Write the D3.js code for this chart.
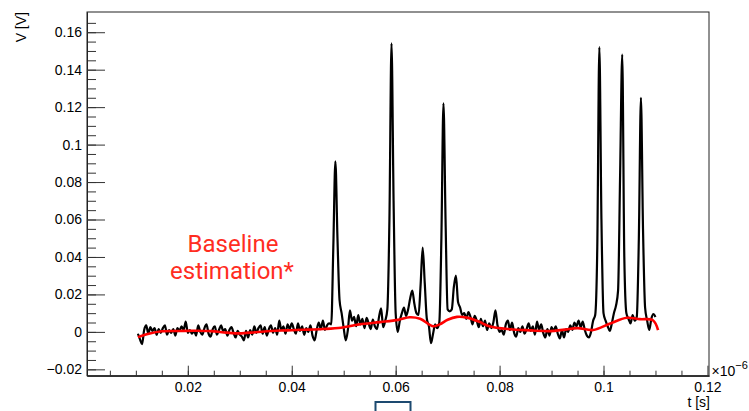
<!DOCTYPE html>
<html>
<head>
<meta charset="utf-8">
<script src="https://cdn.jsdelivr.net/npm/d3@7"></script>
<style>
    body { margin: 0; background: #fff; }
    svg { display: block; }
</style>
</head>
<body>
<svg id="chart" width="749" height="411"></svg>
<script>
//Waveform samples (t in units of 1e-6 s, V in volts), one sample every traceStep
const traceStart = 0.0104
const traceStep = 0.0004
const traceV = [
    -0.0010, -0.0040, -0.0065, 0.0010, 0.0035, -0.0010, 0.0025, 0.0005, 0.0020, -0.0015, 0.0015, -0.0005, 0.0020, 0.0035, -0.0015, 0.0010, -0.0005, 0.0015, -0.0020, 0.0020, 0.0005, 0.0030, 0.0010, 0.0055, -0.0005,
    0.0010, -0.0010, 0.0005, -0.0020, 0.0035, 0.0000, -0.0015, 0.0020, 0.0040, -0.0010, -0.0025, 0.0015, 0.0030, -0.0015, 0.0010, 0.0035, 0.0005, 0.0015, -0.0020, 0.0010, 0.0025, -0.0005, -0.0030, 0.0005, -0.0015,
    -0.0025, -0.0045, 0.0005, -0.0030, 0.0010, -0.0015, 0.0030, -0.0005, 0.0020, 0.0035, -0.0010, 0.0025, -0.0020, 0.0015, 0.0035, -0.0005, 0.0020, -0.0015, 0.0060, 0.0010, 0.0030, -0.0010, 0.0040, 0.0015, 0.0045,
    0.0015, -0.0010, 0.0045, 0.0005, 0.0030, -0.0015, 0.0020, 0.0000, 0.0035, -0.0020, -0.0045, 0.0010, 0.0050, 0.0015, 0.0060, 0.0010, 0.0035, 0.0045, 0.0040, 0.0450, 0.0910, 0.0500, 0.0170, 0.0100, 0.0020,
    -0.0045, 0.0010, 0.0115, 0.0060, 0.0080, 0.0030, 0.0090, 0.0040, 0.0070, 0.0020, 0.0075, 0.0045, 0.0015, 0.0065, 0.0030, 0.0015, 0.0080, 0.0125, 0.0025, 0.0060, 0.0120, 0.0600, 0.1540, 0.0700, 0.0100,
    0.0000, 0.0060, 0.0100, 0.0130, 0.0085, 0.0120, 0.0180, 0.0220, 0.0150, 0.0100, 0.0090, 0.0250, 0.0450, 0.0260, 0.0070, 0.0030, -0.0060, -0.0010, 0.0040, 0.0020, 0.0050, 0.0500, 0.1220, 0.0600, 0.0120,
    0.0110, 0.0120, 0.0240, 0.0300, 0.0160, 0.0130, 0.0090, 0.0100, 0.0070, 0.0105, 0.0080, 0.0040, 0.0085, 0.0060, 0.0025, 0.0070, 0.0030, 0.0060, 0.0010, 0.0045, 0.0020, 0.0050, 0.0115, 0.0035, 0.0000,
    0.0010, -0.0015, 0.0040, 0.0060, 0.0010, 0.0050, -0.0005, -0.0025, 0.0020, 0.0000, 0.0030, -0.0010, 0.0015, 0.0045, 0.0005, 0.0030, -0.0015, 0.0055, 0.0010, 0.0040, -0.0005, -0.0030, 0.0015, -0.0020, 0.0025,
    0.0005, 0.0030, -0.0010, -0.0035, 0.0010, -0.0030, 0.0015, 0.0000, 0.0035, 0.0010, 0.0050, 0.0030, 0.0060, 0.0025, 0.0055, 0.0010, -0.0020, -0.0030, 0.0000, 0.0060, 0.0090, 0.0450, 0.1520, 0.0600, 0.0100,
    0.0060, 0.0030, 0.0005, 0.0045, 0.0100, 0.0140, 0.0220, 0.0850, 0.1480, 0.0400, 0.0100, 0.0070, 0.0045, 0.0090, 0.0060, 0.0080, 0.0500, 0.1250, 0.0550, 0.0130, 0.0060, 0.0010, 0.0070, 0.0095, 0.0080
]

//Baseline estimation curve
const baseT = [0.0104, 0.0125, 0.015, 0.0185, 0.0215, 0.0245, 0.0275, 0.03, 0.033, 0.036, 0.039, 0.042, 0.046, 0.0495, 0.053, 0.057, 0.0605, 0.0627, 0.0647, 0.0672, 0.0685, 0.07, 0.0718, 0.0737, 0.076, 0.078, 0.082, 0.086, 0.0897, 0.0925, 0.095, 0.098, 0.1013, 0.1045, 0.107, 0.1095, 0.1105]
const baseV = [-0.0028, -0.001, 0.0003, 0.0005, 0.0006, 0.0004, -0.0004, -0.0008, -0.0002, 0.0005, 0.0008, 0.0011, 0.0015, 0.0022, 0.004, 0.0052, 0.0064, 0.0078, 0.007, 0.003, 0.004, 0.0065, 0.008, 0.0076, 0.0055, 0.003, 0.0014, 0.0008, 0.0004, 0.0012, 0.002, 0.001, 0.0045, 0.0075, 0.0068, 0.0062, 0.001]

//Axis ticks
const tTicks = [0.02, 0.04, 0.06, 0.08, 0.1, 0.12]
const tTickLabels = ["0.02", "0.04", "0.06", "0.08", "0.1", "0.12"]
const vTicks = [-0.02, 0, 0.02, 0.04, 0.06, 0.08, 0.1, 0.12, 0.14, 0.16]
const vTickLabels = ["\u22120.02", "0", "0.02", "0.04", "0.06", "0.08", "0.1", "0.12", "0.14", "0.16"]
const tMinor = d3.range(1, 24).map(k => k * 0.005)
const vMinor = d3.range(-4, 34).map(k => k * 0.005)

const svg = d3.select("#chart")
const frame = {left: 87, right: 709, top: 12, bottom: 375.7}

const x = d3.scaleLinear().domain([0.0006, 0.1203]).range([frame.left, frame.right])
const y = d3.scaleLinear().domain([-0.0234, 0.1708]).range([frame.bottom, frame.top])

const font = "'Liberation Sans', Arial, Helvetica, sans-serif"

//Frame
svg.append("rect")
    .attr("x", frame.left).attr("y", frame.top)
    .attr("width", frame.right - frame.left).attr("height", frame.bottom - frame.top)
    .attr("fill", "none").attr("stroke", "#222").attr("stroke-width", 1)

//Minor ticks
const minorX = svg.append("g").attr("transform", `translate(0,${frame.bottom})`)
    .call(d3.axisBottom(x).tickValues(tMinor).tickSize(-5).tickSizeOuter(0).tickFormat(""))
const minorY = svg.append("g").attr("transform", `translate(${frame.left},0)`)
    .call(d3.axisLeft(y).tickValues(vMinor).tickSize(-9).tickSizeOuter(0).tickFormat(""))

//Major ticks + labels
const xAxis = svg.append("g").attr("transform", `translate(0,${frame.bottom})`)
    .call(d3.axisBottom(x).tickValues(tTicks).tickSize(-10).tickSizeOuter(0).tickPadding(6)
        .tickFormat((d, i) => tTickLabels[i]))
const yAxis = svg.append("g").attr("transform", `translate(${frame.left},0)`)
    .call(d3.axisLeft(y).tickValues(vTicks).tickSize(-18).tickSizeOuter(0).tickPadding(5)
        .tickFormat((d, i) => vTickLabels[i]))

for (const g of [minorX, minorY, xAxis, yAxis]) {
    g.select(".domain").attr("stroke", "#222")
    g.selectAll(".tick line").attr("stroke", "#333")
    g.selectAll("text").attr("font-family", font).attr("font-size", 14).attr("fill", "#000")
}

//Signal
const tracePts = traceV.map((v, i) => ({t: traceStart + i * traceStep, v: v}))
const traceLine = d3.line().x(d => x(d.t)).y(d => y(d.v)).curve(d3.curveMonotoneX)
svg.append("path")
    .attr("d", traceLine(tracePts))
    .attr("fill", "none").attr("stroke", "#000").attr("stroke-width", 2.2)
    .attr("stroke-linejoin", "round")

//Baseline
const basePts = baseT.map((t, i) => ({t: t, v: baseV[i]}))
const baseLine = d3.line().x(d => x(d.t)).y(d => y(d.v)).curve(d3.curveCatmullRom)
svg.append("path")
    .attr("d", baseLine(basePts))
    .attr("fill", "none").attr("stroke", "#ff0000").attr("stroke-width", 2.6)

//Axis titles
svg.append("text")
    .attr("transform", `translate(26,${frame.top}) rotate(-90)`)
    .attr("text-anchor", "end")
    .attr("font-family", font).attr("font-size", 14)
    .text("V [V]")
svg.append("text")
    .attr("x", frame.right + 1).attr("y", 406.5)
    .attr("text-anchor", "end")
    .attr("font-family", font).attr("font-size", 14)
    .text("t [s]")
const expo = svg.append("text")
    .attr("x", 711.5).attr("y", 375.5)
    .attr("font-family", font).attr("font-size", 14)
expo.append("tspan").text("\u00d710")
expo.append("tspan").attr("dy", -7).attr("font-size", 11).text("\u22126")

//Annotation
const note = svg.append("text")
    .attr("text-anchor", "middle")
    .attr("font-family", "Roboto, sans-serif").attr("font-size", 24)
    .attr("fill", "#ff2d1f")
note.append("tspan").attr("x", 233).attr("y", 251.7).text("Baseline")
note.append("tspan").attr("x", 232).attr("y", 279).text("estimation*")

//Box cut off at the bottom edge
svg.append("rect")
    .attr("x", 375.5).attr("y", 402).attr("width", 35).attr("height", 20)
    .attr("fill", "none").attr("stroke", "#1d4a70").attr("stroke-width", 2)
</script>
</body>
</html>
